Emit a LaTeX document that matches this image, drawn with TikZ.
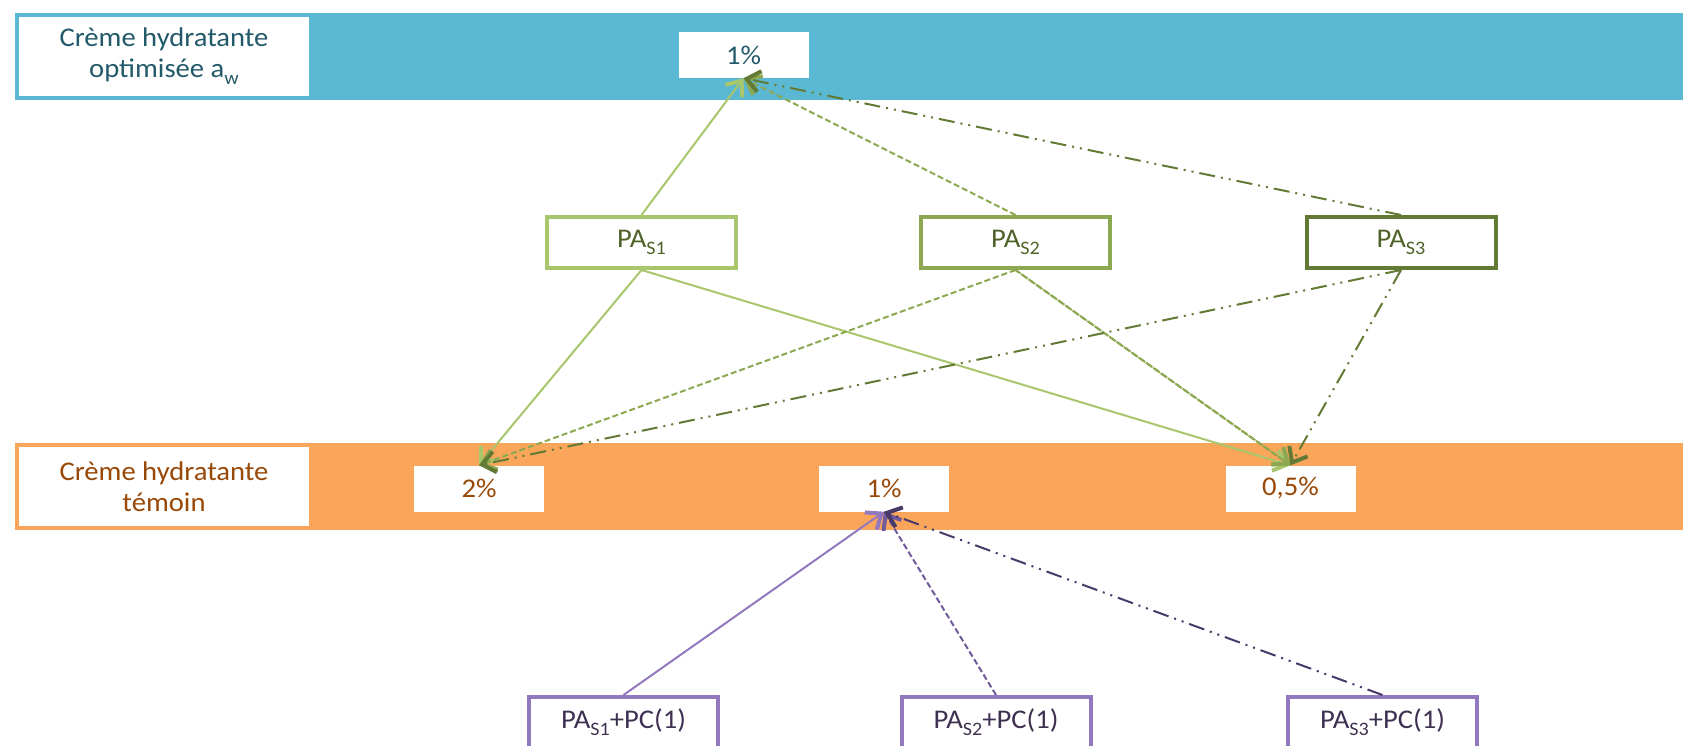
\documentclass[tikz,border=0pt]{standalone}
\usepackage{fontspec}
\setmainfont{Carlito}[FakeStretch=1.06]
\usetikzlibrary{arrows.meta}
\definecolor{bandblue}{RGB}{91,184,210}
\definecolor{bandorange}{RGB}{249,166,90}
\definecolor{tealtext}{RGB}{35,90,106}
\definecolor{browntext}{RGB}{152,72,7}
\definecolor{greenA}{RGB}{168,198,107}
\definecolor{greenB}{RGB}{140,168,80}
\definecolor{greenC}{RGB}{99,122,53}
\definecolor{greentext}{RGB}{79,98,40}
\definecolor{purpleA}{RGB}{146,120,190}
\definecolor{purpleB}{RGB}{112,90,155}
\definecolor{purpleC}{RGB}{72,58,105}
\definecolor{purpletext}{RGB}{63,49,81}
\newcommand\subtxt[1]{\raisebox{-7pt}{\fontsize{19}{22}\selectfont #1}}
\begin{document}
\begin{tikzpicture}[x=1pt,y=-1pt, every node/.style={font=\fontsize{27}{31}\selectfont},
    labelbox/.style={draw, line width=4pt, fill=white, minimum width=294pt, minimum height=83pt, align=center, inner sep=0pt},
    valbox/.style={fill=white, minimum width=130pt, minimum height=46pt, inner sep=0pt},
    pabox/.style={draw, line width=4pt, fill=white, minimum width=189pt, minimum height=51pt, inner sep=0pt},
    arr/.style={line width=2pt, -{Straight Barb[length=13pt,width=21pt,line width=4pt]}},
    dashline/.style={dash pattern=on 6pt off 3pt},
    dddline/.style={dash pattern=on 16pt off 6pt on 2pt off 6pt on 2pt off 6pt}]
    \useasboundingbox (0,0) rectangle (1683,746);
    % bands
    \fill[bandblue] (15,13) rectangle (1683,100);
    \fill[bandorange] (15,443) rectangle (1683,530);
    \node[labelbox, draw=bandblue, text=tealtext] (opt) at (164,56.5) {Crème hydratante\\optimisée a\subtxt{w}};
    \node[labelbox, draw=bandorange, text=browntext] (tem) at (164,486.5) {Crème hydratante\\témoin};
    \node[valbox, text=tealtext] (opt1) at (743.5,55) {1\%};
    \node[valbox, text=browntext] (tem2) at (479,488.5) {2\%};
    \node[valbox, text=browntext] (tem1) at (884,488.5) {1\%};
    \node[valbox, text=browntext] (tem05) at (1290.5,488.5) {0,5\%};
    % principes actifs
    \node[pabox, draw=greenA, text=greentext] (pa1) at (641.5,242.5) {PA\subtxt{S1}};
    \node[pabox, draw=greenB, text=greentext] (pa2) at (1015.5,242.5) {PA\subtxt{S2}};
    \node[pabox, draw=greenC, text=greentext] (pa3) at (1401,242.5) {PA\subtxt{S3}};
    \node[pabox, draw=purpleA, text=purpletext] (pc1) at (623.5,722.5) {PA\subtxt{S1}+PC(1)};
    \node[pabox, draw=purpleA, text=purpletext] (pc2) at (996,722.5) {PA\subtxt{S2}+PC(1)};
    \node[pabox, draw=purpleA, text=purpletext] (pc3) at (1382.5,722.5) {PA\subtxt{S3}+PC(1)};
    % fleches
    \draw[arr, greenA] (pa1.north) -- (opt1.south);
    \draw[arr, greenA] (pa1.south) -- (tem2.north);
    \draw[arr, greenA] (pa1.south) -- (tem05.north);
    \draw[arr, dashline, greenB] (pa2.north) -- (opt1.south);
    \draw[arr, dashline, greenB] (pa2.south) -- (tem2.north);
    \draw[arr, dashline, greenB] (pa2.south) -- (tem05.north);
    \draw[arr, dashline, dash phase=2pt, greenB, xshift=2.5pt] (pa2.south) -- (tem05.north);
    \draw[arr, dddline, greenC] (pa3.north) -- (opt1.south);
    \draw[arr, dddline, greenC] (pa3.south) -- (tem2.north);
    \draw[arr, dddline, greenC] (pa3.south) -- (tem05.north);
    \draw[arr, purpleA] (pc1.north) -- (tem1.south);
    \draw[arr, dashline, purpleB] (pc2.north) -- (tem1.south);
    \draw[arr, dddline, purpleC] (pc3.north) -- (tem1.south);
\end{tikzpicture}
\end{document}
